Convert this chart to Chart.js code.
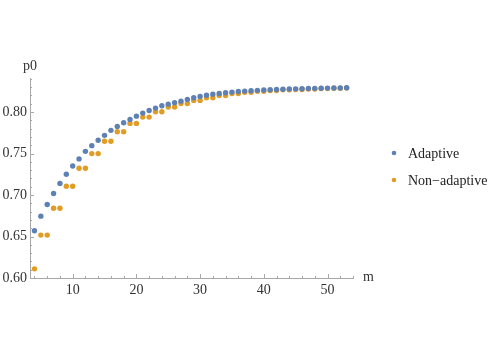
<!DOCTYPE html>
<html>
<head>
<style>
  html, body { margin: 0; padding: 0; background: #fff; }
  #wrap { width: 498px; height: 352px; }
</style>
</head>
<body>
<div id="wrap"><canvas id="chart"></canvas></div>
<script src="https://cdn.jsdelivr.net/npm/chart.js"></script>
<script>
const mValues = [4,5,6,7,8,9,10,11,12,13,14,15,16,17,18,19,20,21,22,23,24,25,26,27,28,29,30,
                 31,32,33,34,35,36,37,38,39,40,41,42,43,44,45,46,47,48,49,50,51,52,53];
const adaptive = [0.6569,0.6745,0.6886,0.7018,0.7140,0.7250,0.7350,0.7435,0.7526,0.7595,0.7659,
                  0.7719,0.7779,0.7827,0.7871,0.7911,0.7950,0.7987,0.8019,0.8047,0.8076,0.8095,
                  0.8113,0.8131,0.8151,0.8172,0.8188,0.8203,0.8215,0.8224,0.8232,0.8240,0.8248,
                  0.8252,0.8257,0.8261,0.8265,0.8268,0.8271,0.8274,0.8277,0.8279,0.8281,0.8283,
                  0.8285,0.8287,0.8288,0.8290,0.8291,0.8293];
const nonAdaptive = [0.6110,0.6517,0.6517,0.6840,0.6840,0.7106,0.7106,0.7322,0.7322,0.7499,0.7499,
                     0.7647,0.7647,0.7763,0.7763,0.7863,0.7863,0.7939,0.7939,0.8003,0.8003,0.8061,
                     0.8061,0.8103,0.8103,0.8140,0.8140,0.8172,0.8172,0.8200,0.8200,0.8224,0.8224,
                     0.8238,0.8238,0.8251,0.8251,0.8260,0.8260,0.8267,0.8267,0.8272,0.8272,0.8277,
                     0.8277,0.8283,0.8283,0.8287,0.8287,0.8291];
const xTicks = [10,20,30,40,50];
const yTicks = [0.60,0.65,0.70,0.75,0.80];
const seriesNames = ["Adaptive", "Non\u2212adaptive"];
const seriesColors = ["#5E81B5", "#E19C24"];

const serif = "'Liberation Serif', 'Times New Roman', 'DejaVu Serif', serif";
const axisColor = "#a8a8a8";

// inward Mathematica style ticks + axis labels + legend
const decorPlugin = {
    id: "decor",
    afterDraw(chart) {
        const ctx = chart.ctx;
        const xs = chart.scales.x, ys = chart.scales.y;
        const area = chart.chartArea;
        ctx.save();
        ctx.strokeStyle = axisColor;
        ctx.lineWidth = 1;
        for (let v = 4; v <= 54; v += 2) {
            const px = Math.round(xs.getPixelForValue(v)) + 0.5;
            const len = (v % 10 === 0) ? 4 : 2;
            ctx.beginPath();
            ctx.moveTo(px, area.bottom);
            ctx.lineTo(px, area.bottom - len);
            ctx.stroke();
        }
        for (let i = 60; i <= 84; i++) {
            const py = Math.round(ys.getPixelForValue(i / 100)) + 0.5;
            const len = (i % 5 === 0) ? 4 : 2;
            ctx.beginPath();
            ctx.moveTo(area.left, py);
            ctx.lineTo(area.left + len, py);
            ctx.stroke();
        }
        ctx.fillStyle = "#333";
        ctx.font = "14px " + serif;
        ctx.textBaseline = "alphabetic";
        ctx.textAlign = "center";
        ctx.fillText("p0", area.left, area.top - 8);
        ctx.textAlign = "left";
        ctx.textBaseline = "middle";
        ctx.fillText("m", area.right + 10, area.bottom - 1);

        // legend
        const lx = 394, ly = [153, 180];
        for (let i = 0; i < seriesNames.length; i++) {
            ctx.fillStyle = seriesColors[i];
            ctx.beginPath();
            ctx.arc(lx, ly[i], 2.3, 0, Math.PI * 2);
            ctx.fill();
            ctx.fillStyle = "#222";
            ctx.fillText(seriesNames[i], lx + 14, ly[i] + 1);
        }
        ctx.restore();
    }
};

const toPoints = (ys) => mValues.map((m, i) => ({ x: m, y: ys[i] }));

new Chart(document.getElementById("chart"), {
    type: "scatter",
    data: {
        datasets: [
            { label: seriesNames[0], data: toPoints(adaptive), backgroundColor: seriesColors[0],
              borderWidth: 0, pointRadius: 2.7 },
            { label: seriesNames[1], data: toPoints(nonAdaptive), backgroundColor: seriesColors[1],
              borderWidth: 0, pointRadius: 2.7 }
        ]
    },
    options: {
        responsive: true,
        maintainAspectRatio: false,
        animation: false,
        layout: { padding: { left: 0, top: 78, right: 145, bottom: 0 } },
        plugins: { legend: { display: false }, tooltip: { enabled: false } },
        scales: {
            x: {
                type: "linear", min: 3.3, max: 54,
                grid: { display: false, drawTicks: false },
                border: { display: true, color: axisColor },
                afterBuildTicks: (s) => { s.ticks = xTicks.map(v => ({ value: v })); },
                afterFit: (s) => { s.height = 74; },
                ticks: { padding: 4, color: "#333", font: { family: serif, size: 14 },
                         callback: (v) => String(v) }
            },
            y: {
                type: "linear", min: 0.6, max: 0.841,
                grid: { display: false, drawTicks: false },
                border: { display: true, color: axisColor },
                afterBuildTicks: (s) => { s.ticks = yTicks.map(v => ({ value: v })); },
                afterFit: (s) => { s.width = 30; },
                ticks: { padding: 3, color: "#333", font: { family: serif, size: 14 },
                         callback: (v) => v.toFixed(2) }
            }
        }
    },
    plugins: [decorPlugin]
});
</script>
</body>
</html>
